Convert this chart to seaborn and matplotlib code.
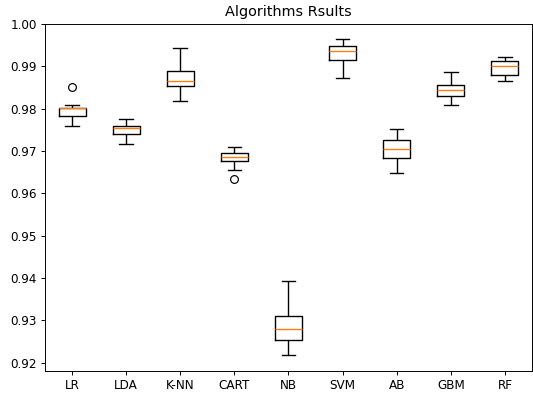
import matplotlib
matplotlib.use("Agg")
import matplotlib.pyplot as plt
import pandas as pd
import seaborn as sns

names = ["LR", "LDA", "K-NN", "CART", "NB", "SVM", "AB", "GBM", "RF"]

# cross-validation accuracies per model (10 folds)
lr = [0.9760, 0.9775, 0.9783, 0.9783, 0.9801, 0.9802, 0.9802, 0.9802, 0.9809, 0.9851]
lda = [0.9717, 0.9735, 0.9741, 0.9741, 0.9752, 0.9756, 0.9760, 0.9760, 0.9768, 0.9775]
knn = [0.9817, 0.9840, 0.9854, 0.9854, 0.9864, 0.9868, 0.9890, 0.9890, 0.9905, 0.9942]
cart = [0.9633, 0.9655, 0.9676, 0.9676, 0.9685, 0.9689, 0.9696, 0.9696, 0.9702, 0.9710]
nb = [0.9218, 0.9240, 0.9255, 0.9255, 0.9276, 0.9286, 0.9311, 0.9311, 0.9350, 0.9393]
svm = [0.9873, 0.9900, 0.9914, 0.9914, 0.9932, 0.9940, 0.9949, 0.9949, 0.9957, 0.9964]
ab = [0.9647, 0.9670, 0.9684, 0.9684, 0.9700, 0.9708, 0.9725, 0.9725, 0.9740, 0.9753]
gbm = [0.9809, 0.9820, 0.9829, 0.9829, 0.9842, 0.9846, 0.9857, 0.9857, 0.9870, 0.9887]
rf = [0.9865, 0.9872, 0.9880, 0.9880, 0.9898, 0.9904, 0.9913, 0.9913, 0.9918, 0.9922]

results = [lr, lda, knn, cart, nb, svm, ab, gbm, rf]
df = pd.DataFrame(
    [(name, v) for name, vals in zip(names, results) for v in vals],
    columns=["model", "accuracy"],
)

dpi = 86
fig = plt.figure(figsize=(533 / dpi, 397 / dpi), dpi=dpi)
ax = fig.add_axes([0.0844, 0.0655, 0.9136, 0.8753])

sns.boxplot(
    data=df,
    x="model",
    y="accuracy",
    order=names,
    width=0.5,
    fill=False,
    color="black",
    linewidth=1.15,
    whis=1.5,
    medianprops=dict(color="#ff7f0e", linewidth=1.15),
    flierprops=dict(marker="o", markerfacecolor="none", markeredgecolor="black", markersize=6.5),
    ax=ax,
)

ax.set_title("Algorithms Rsults")
ax.set_xlabel("")
ax.set_ylabel("")
ax.set_xlim(-0.5, 8.5)
ax.set_ylim(0.91807, 1.0001)
ax.set_yticks([0.92, 0.93, 0.94, 0.95, 0.96, 0.97, 0.98, 0.99, 1.00])

fig.savefig("out.png", dpi=dpi)
plt.close(fig)
